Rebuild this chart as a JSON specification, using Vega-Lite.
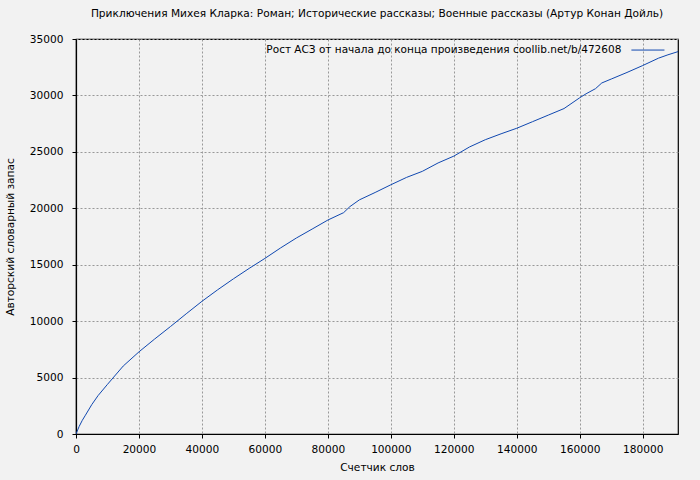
{
  "$schema": "https://vega.github.io/schema/vega-lite/v6.json",
  "width": 602,
  "height": 395,
  "autosize": {"type": "none"},
  "padding": {"left": 76, "top": 39, "right": 22, "bottom": 46},
  "background": "#f2f2f2",
  "title": {
    "text": "Приключения Михея Кларка: Роман; Исторические рассказы; Военные рассказы (Артур Конан Дойль)",
    "font": "DejaVu Sans",
    "fontSize": 10.6,
    "fontWeight": "normal",
    "color": "#000000",
    "anchor": "middle",
    "offset": 14
  },
  "config": {
    "view": {"stroke": "#000000", "strokeWidth": 1.2, "fill": "#f2f2f2"},
    "axis": {
      "labelFont": "DejaVu Sans",
      "labelFontSize": 10.6,
      "labelColor": "#000000",
      "labelFlush": false,
      "titleFont": "DejaVu Sans",
      "titleFontSize": 10.6,
      "titleFontWeight": "normal",
      "titleColor": "#000000",
      "domainColor": "#000000",
      "domainWidth": 1.2,
      "tickColor": "#000000",
      "tickSize": 4,
      "gridColor": "#999999",
      "gridDash": [2, 2],
      "gridWidth": 1
    }
  },
  "layer": [
    {
      "data": {
        "values": [
          {"words": 0, "vocab": 0},
          {"words": 1000, "vocab": 667},
          {"words": 2000, "vocab": 1212},
          {"words": 3000, "vocab": 1667},
          {"words": 5000, "vocab": 2600},
          {"words": 7000, "vocab": 3400},
          {"words": 10000, "vocab": 4400},
          {"words": 12000, "vocab": 5050},
          {"words": 15000, "vocab": 6023},
          {"words": 20000, "vocab": 7280},
          {"words": 25000, "vocab": 8420},
          {"words": 30000, "vocab": 9520},
          {"words": 35000, "vocab": 10650},
          {"words": 40000, "vocab": 11756},
          {"words": 45000, "vocab": 12780},
          {"words": 50000, "vocab": 13750},
          {"words": 55000, "vocab": 14673},
          {"words": 60000, "vocab": 15560},
          {"words": 65000, "vocab": 16491},
          {"words": 70000, "vocab": 17368},
          {"words": 75000, "vocab": 18158},
          {"words": 80000, "vocab": 18958},
          {"words": 85000, "vocab": 19613},
          {"words": 87000, "vocab": 20150},
          {"words": 90000, "vocab": 20744},
          {"words": 95000, "vocab": 21399},
          {"words": 100000, "vocab": 22083},
          {"words": 105000, "vocab": 22738},
          {"words": 110000, "vocab": 23274},
          {"words": 115000, "vocab": 24018},
          {"words": 120000, "vocab": 24622},
          {"words": 125000, "vocab": 25436},
          {"words": 130000, "vocab": 26076},
          {"words": 135000, "vocab": 26600},
          {"words": 140000, "vocab": 27093},
          {"words": 145000, "vocab": 27674},
          {"words": 150000, "vocab": 28256},
          {"words": 155000, "vocab": 28837},
          {"words": 160000, "vocab": 29797},
          {"words": 162000, "vocab": 30145},
          {"words": 165000, "vocab": 30600},
          {"words": 167000, "vocab": 31105},
          {"words": 170000, "vocab": 31453},
          {"words": 175000, "vocab": 32035},
          {"words": 180000, "vocab": 32650},
          {"words": 185000, "vocab": 33300},
          {"words": 188000, "vocab": 33600},
          {"words": 191200, "vocab": 33880}
        ]
      },
      "mark": {"type": "line", "color": "#1048b0", "strokeWidth": 1, "clip": true},
      "encoding": {
        "x": {
          "field": "words",
          "type": "quantitative",
          "scale": {"domain": [0, 191200], "nice": false, "zero": false},
          "axis": {
            "title": "Счетчик слов",
            "values": [0, 20000, 40000, 60000, 80000, 100000, 120000, 140000, 160000, 180000],
            "format": "d",
            "labelPadding": 6,
            "titlePadding": 8
          }
        },
        "y": {
          "field": "vocab",
          "type": "quantitative",
          "scale": {"domain": [0, 35000], "nice": false},
          "axis": {
            "title": "Авторский словарный запас",
            "values": [0, 5000, 10000, 15000, 20000, 25000, 30000, 35000],
            "format": "d",
            "labelPadding": 9,
            "titlePadding": 14
          }
        }
      }
    },
    {
      "data": {"values": [{"label": "Рост АСЗ от начала до конца произведения  coollib.net/b/472608"}]},
      "mark": {"type": "text", "align": "right", "baseline": "middle", "font": "DejaVu Sans", "fontSize": 10.5, "color": "#000000"},
      "encoding": {
        "x": {"datum": 173200, "type": "quantitative"},
        "y": {"datum": 34020, "type": "quantitative"},
        "text": {"field": "label"}
      }
    },
    {
      "data": {"values": [{"label": "legend"}]},
      "mark": {"type": "rule", "color": "#1048b0", "strokeWidth": 1},
      "encoding": {
        "x": {"datum": 176400, "type": "quantitative"},
        "x2": {"datum": 186900},
        "y": {"datum": 34020, "type": "quantitative"}
      }
    }
  ]
}
